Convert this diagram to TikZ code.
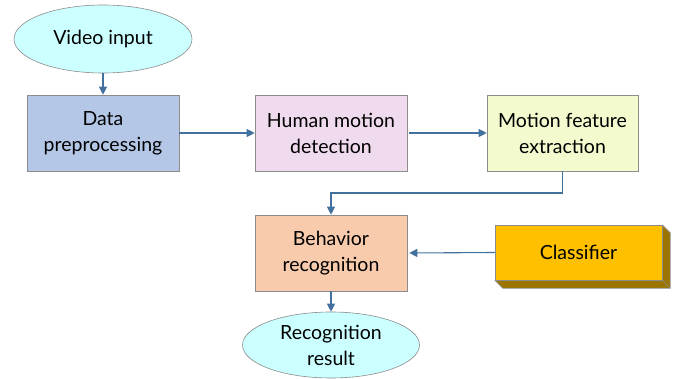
\documentclass[tikz,border=0pt]{standalone}
\usepackage{fontspec}
\setmainfont{Lato}
\usetikzlibrary{shapes.geometric,arrows.meta,calc}
\definecolor{edgegray}{HTML}{8C8C8C}
\definecolor{flowblue}{HTML}{41719C}
\definecolor{ovalfill}{HTML}{CCFFFF}
\definecolor{prepfill}{HTML}{B4C7E7}
\definecolor{detfill}{HTML}{F0DAEE}
\definecolor{featfill}{HTML}{F3FACE}
\definecolor{recfill}{HTML}{F8CBAD}
\definecolor{clsfill}{HTML}{FFC000}
\definecolor{clsside}{HTML}{9C7400}
\tikzset{
  x=1pt, y=-1pt,
  every node/.style={font=\fontsize{19.5}{26}\selectfont, align=center},
  oval/.style={ellipse, draw=edgegray, line width=0.6pt, fill=ovalfill, inner sep=0pt},
  stage/.style={rectangle, draw=edgegray, line width=0.6pt, minimum width=152pt, minimum height=76pt, inner sep=0pt},
  flow/.style={draw=flowblue, line width=1.1pt, -{Triangle[length=8pt,width=8pt]}}
}
\begin{document}
\begin{tikzpicture}
\useasboundingbox (0,0) rectangle (674,379);
% start and end ovals
\node[oval, minimum width=178pt, minimum height=68pt] (video) at (103,39) {Video input};
\node[oval, minimum width=177pt, minimum height=66pt] (result) at (331,345) {Recognition\\result};
% processing stages
\node[stage, fill=prepfill] (prep) at (103,133) {Data\\preprocessing};
\node[stage, fill=detfill] (detect) at (331,133) {Human motion\\detection};
\node[stage, fill=featfill, minimum width=151pt] (feat) at (562.5,133) {Motion feature\\extraction};
\node[stage, fill=recfill] (recog) at (331,253) {Behavior\\recognition};
% classifier block with bevelled depth
\node[rectangle, minimum width=167pt, minimum height=55pt, inner sep=0pt] (cls) at (578.5,252.5) {};
\fill[clsside] (cls.south west) -- ($(cls.south west)+(8,8)$) -- ($(cls.south east)+(8,8)$) -- ($(cls.north east)+(8,8)$) -- (cls.north east) -- (cls.south east) -- cycle;
\draw[edgegray, line width=0.6pt] (cls.south west) -- ($(cls.south west)+(8,8)$) -- ($(cls.south east)+(8,8)$) -- ($(cls.north east)+(8,8)$) -- (cls.north east);
\draw[edgegray, line width=0.6pt] (cls.south east) -- ($(cls.south east)+(8,8)$);
\node[rectangle, draw=edgegray, line width=0.6pt, fill=clsfill, minimum width=167pt, minimum height=55pt, inner sep=0pt] at (cls.center) {Classifier};
% connectors
\draw[flow] (video) -- (prep);
\draw[flow] (prep.east) -- (detect.west);
\draw[flow] ($(detect.east)+(2,0)$) -- (feat.west);
\coordinate (bend) at (0,193);
\draw[flow] (feat.south) |- (bend -| recog.north) -- (recog.north);
\draw[flow] (cls.west) -- ($(recog.east)+(2,0)$);
\draw[flow] (recog.south) -- (result.north);
\end{tikzpicture}
\end{document}
